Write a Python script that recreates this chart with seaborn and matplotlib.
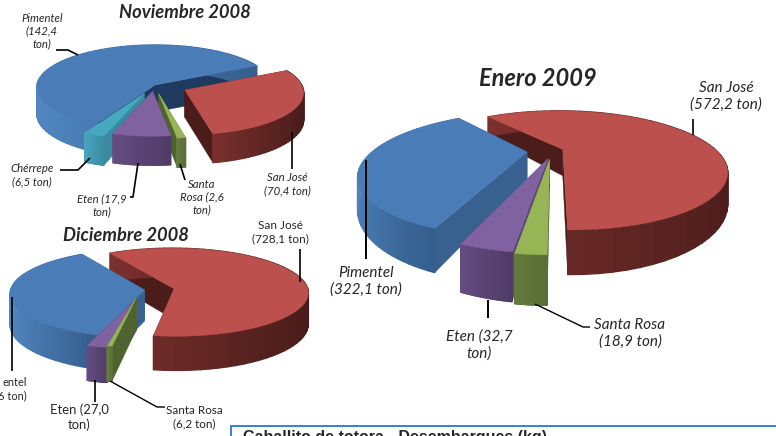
#!/usr/bin/env python3
import numpy as np
import seaborn as sns
import matplotlib.pyplot as plt
from matplotlib.patches import Polygon, Rectangle

sns.set_style("white")
plt.rcParams['font.family'] = ['Lato', 'DejaVu Sans']

# catch values (ton), clockwise from the first slice
nov_names = ['San José', 'Santa Rosa', 'Eten', 'Chérrepe', 'Pimentel']
nov_tons = [70.4, 2.6, 17.9, 6.5, 142.4]
dic_names = ['San José', 'Santa Rosa', 'Eten', 'Pimentel']
dic_tons = [728.1, 6.2, 27.0, 435.6]  # Pimentel label is cut off, read from the slice
ene_names = ['San José', 'Santa Rosa', 'Eten', 'Pimentel']
ene_tons = [572.2, 18.9, 32.7, 322.1]

top_colors = {'San José': '#bb504d', 'Santa Rosa': '#96b655', 'Eten': '#8062a0',
              'Chérrepe': '#46a9c2', 'Pimentel': '#4a7cb8'}
wall_colors = {'San José': ['#7a302d', '#481c1a'], 'Santa Rosa': ['#64793c', '#5a6e36'],
               'Eten': ['#644c80', '#503b68'], 'Chérrepe': ['#46a5bd', '#3a8ba0'],
               'Pimentel': ['#5186c0', '#345e8c']}
side_colors = {'San José': '#4a1c1a', 'Santa Rosa': '#4f6330', 'Eten': '#5d4578',
               'Chérrepe': '#3a8ba0', 'Pimentel': '#38618f'}

fig = plt.figure(figsize=(7.76, 4.36), dpi=100)
ax = fig.add_axes([0, 0, 1, 1])
ax.set_xlim(0, 776)
ax.set_ylim(436, 0)
ax.axis('off')


def pie3d(names, tons, start, cx, cy, rx, ry, k, depth, offsets, sides=None):
    sides = {**side_colors, **(sides or {})}
    angles = np.array(tons) / np.sum(tons) * 360
    edges = start - np.concatenate([[0], np.cumsum(angles)])
    mids = (edges[:-1] + edges[1:]) / 2

    def proj(u, v, z=0):
        s = 1 / (1 - k * v)
        return np.column_stack([cx + rx * u * s, cy + ry * v * s + depth * z * s ** 1.2])

    # back slices first
    for i in np.argsort(-np.sin(np.radians(mids))):
        name = names[i]
        du, dv = offsets[i]
        a = np.radians(np.linspace(edges[i], edges[i] - angles[i], 60))
        u = du + np.cos(a)
        v = dv - np.sin(a)

        # the two flat cut faces
        for j in [0, -1]:
            uu = np.array([du, u[j], u[j], du])
            vv = np.array([dv, v[j], v[j], dv])
            zz = np.array([0, 0, 1, 1])
            ax.add_patch(Polygon(proj(uu, vv, zz), fc=sides[name], ec=sides[name], lw=0.3))

        # rim, shaded from left to right
        shades = sns.blend_palette(wall_colors[name], 100)
        xs = cx + rx * u
        span = max(xs.max() - xs.min(), 1)
        for j in range(len(a) - 1):
            quad = np.vstack([proj(u[j:j + 2], v[j:j + 2]),
                              proj(u[j:j + 2][::-1], v[j:j + 2][::-1], 1)])
            c = shades[int(99 * (xs[j] - xs.min()) / span)]
            ax.add_patch(Polygon(quad, fc=c, ec=c, lw=1.0))

        top = proj(np.r_[du, u], np.r_[dv, v])
        ax.add_patch(Polygon(top, fc=top_colors[name], ec=top_colors[name], lw=0.3))


def leader(xs, ys, lw=1.2):
    ax.plot(xs, ys, color='black', lw=lw, solid_capstyle='butt')


def label(x, y, text, size, style='italic', weight='normal'):
    ax.text(x, y, text, fontsize=size, style=style, weight=weight, ha='center', va='center',
            linespacing=1.2)


pie3d(nov_names, nov_tons, 28, 155, 85, 118, 42, 0.05, 27,
      [(0.25, 0.12), (0.03, 0.2), (-0.02, 0.15), (-0.09, 0.2), (0, 0)],
      sides={'Pimentel': '#1f3a5f'})
pie3d(dic_names, dic_tons, 120, 150, 290, 134, 44, 0.08, 31,
      [(0.18, -0.03), (-0.1, 0.17), (-0.1, 0.2), (-0.04, 0)])
pie3d(ene_names, ene_tons, 127, 548, 152, 155, 54, 0.36, 27,
      [(0.097, -0.05), (0.01, 0.13), (0, 0.12), (-0.135, 0)])

# leader lines
leader([56, 68, 78], [50, 50, 55])
leader([60, 66, 78, 90], [170, 170, 170, 158])
leader([130, 133, 138], [197, 197, 163])
leader([185, 180], [180, 164])
leader([292, 292], [169, 132])
leader([12, 12], [371, 297])
leader([95, 95], [402, 380])
leader([165, 157, 110], [407, 407, 381], lw=1.0)
leader([300, 300], [249, 282])
leader([366, 366], [259, 160], lw=1.4)
leader([488, 488], [318, 300], lw=1.4)
leader([590, 583, 535], [327, 327, 304], lw=1.0)
leader([693, 693], [119, 135])

# titles
label(185, 12, 'Noviembre 2008', 13.2, weight='bold')
label(126, 235, 'Diciembre 2008', 13.2, weight='bold')
label(538, 78, 'Enero 2009', 17, weight='bold')

# slice labels
label(42, 31, 'Pimentel\n(142,4\nton)', 8.2)
label(32, 175, 'Chérrepe\n(6,5 ton)', 8.2)
label(102, 205, 'Eten (17,9\nton)', 8.2)
label(202, 197, 'Santa\nRosa (2,6\nton)', 8.2)
label(287, 184, 'San José\n(70,4 ton)', 8.2)
label(280, 232, 'San José\n(728,1 ton)', 8.5, style='normal')
ax.text(27, 389, 'entel\n6 ton)', fontsize=7.9, ha='right', va='center', multialignment='right',
        linespacing=1.3)
label(79, 417, 'Eten (27,0\nton)', 9.4, style='normal')
label(194, 417, 'Santa Rosa\n(6,2 ton)', 8.4, style='normal')
label(366, 281, 'Pimentel\n(322,1 ton)', 11)
label(726, 96, 'San José\n(572,2 ton)', 11)
label(479, 345, 'Eten (32,7\nton)', 11)
label(630, 333, 'Santa Rosa\n(18,9 ton)', 11)

# next chart's frame, cut off by the page edge
ax.add_patch(Rectangle((230.5, 425.5), 600, 40, fc='white', ec='#1f78d8', lw=1.3))
ax.text(243, 429.5, 'Caballito de totora - Desembarques (kg)', fontsize=11.5, weight='bold',
        family='Liberation Sans', ha='left', va='top')

fig.savefig('out.png', dpi=100)
